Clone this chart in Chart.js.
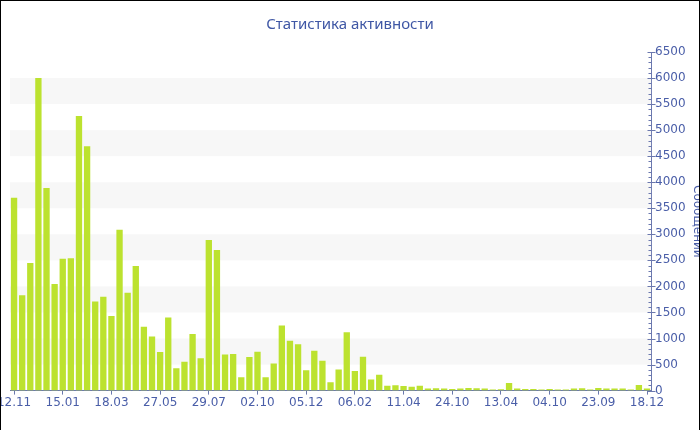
<!DOCTYPE html>
<html>
<head>
<meta charset="utf-8">
<script src="https://cdn.jsdelivr.net/npm/chart.js@4"></script>
<style>
  html, body { margin: 0; padding: 0; background: #fff; }
  #wrap { position: relative; width: 700px; height: 430px; overflow: hidden; background: #fff; }
  #myChart { position: absolute; left: 0; top: 0; }
  #frame { position: absolute; left: 0; top: 0; width: 698px; height: 430px;
           border-left: 1px solid #000; border-right: 1px solid #000; border-top: 1px solid #000;
           pointer-events: none; }
</style>
</head>
<body>
<div id="wrap">
  <canvas id="myChart" width="708" height="430"></canvas>
  <div id="frame"></div>
</div>
<script>
const chartTitle = 'Статистика активности';

// подписи оси X (каждая 6-я неделя)
const tickLabels = ['12.11', '15.01', '18.03', '27.05', '29.07', '02.10', '05.12',
                    '06.02', '11.04', '24.10', '13.04', '04.10', '23.09', '18.12'];
const labelStep = 6;

// количество сообщений
const messages = [
    3700, 1830, 2450, 6000, 3890, 2045, 2530, 2540, 5270, 4690,
    1710, 1800, 1430, 3090, 1880, 2390, 1225, 1040, 740, 1405,
    428, 556, 1086, 620, 2890, 2700, 695, 703, 255, 645,
    747, 255, 518, 1252, 958, 888, 390, 767, 575, 160,
    403, 1118, 377, 652, 214, 303, 92, 105, 86, 73,
    92, 40, 45, 38, 32, 38, 51, 45, 38, 19,
    25, 147, 38, 32, 32, 19, 32, 19, 19, 38,
    45, 19, 51, 38, 38, 38, 19, 109, 38
];

const categories = messages.map((v, i) => i % labelStep === 0 ? tickLabels[i / labelStep] : '');

const textColor = '#4a5ea8';
const axisColor = '#6b78ae';

// полосы фона, мелкие деления на оси Y и заголовок по центру окна
const decor = {
    id: 'decor',
    beforeDatasetsDraw(chart) {
        const { ctx, chartArea, scales: { y } } = chart;
        ctx.save();
        ctx.fillStyle = '#f7f7f7';
        for (let v = 500; v < 6500; v += 1000) {
            const top = y.getPixelForValue(v + 500);
            const bottom = y.getPixelForValue(v);
            ctx.fillRect(chartArea.left, top, chartArea.right - chartArea.left, bottom - top);
        }
        ctx.restore();
    },
    afterDraw(chart) {
        const { ctx, scales: { y } } = chart;
        const x0 = Math.round(y.left) + 0.5;
        ctx.save();
        ctx.strokeStyle = axisColor;
        ctx.lineWidth = 1;
        ctx.beginPath();
        for (let v = 0; v <= 6500; v += 100) {
            const py = Math.round(y.getPixelForValue(v)) + 0.5;
            if (v % 500 === 0) {
                ctx.moveTo(x0 - 4, py);
                ctx.lineTo(x0 + 4, py);
            } else {
                ctx.moveTo(x0 - 3, py);
                ctx.lineTo(x0, py);
            }
        }
        ctx.stroke();

        ctx.fillStyle = '#3f57a5';
        ctx.font = '15px "Noto Sans"';
        ctx.textAlign = 'center';
        ctx.textBaseline = 'middle';
        ctx.fillText(chartTitle, 350, 25);
        ctx.restore();
    }
};

const ctx = document.getElementById('myChart').getContext('2d');
const myChart = new Chart(ctx, {
    type: 'bar',
    data: {
        labels: categories,
        datasets: [{
            label: 'Сообщений',
            data: messages,
            backgroundColor: '#bce22f',
            borderWidth: 0,
            categoryPercentage: 1,
            barPercentage: 0.78
        }]
    },
    options: {
        responsive: false,
        animation: false,
        devicePixelRatio: 1,
        layout: { padding: { left: 10, right: 0, top: 52, bottom: 19 } },
        plugins: {
            legend: { display: false },
            tooltip: { enabled: false },
            title: { display: false }
        },
        scales: {
            x: {
                offset: true,
                afterFit(s) { s.paddingLeft = 0; s.paddingRight = 0; },
                border: { color: axisColor, width: 1 },
                grid: {
                    offset: false,
                    drawOnChartArea: false,
                    tickLength: 4,
                    tickColor: c => (c.index % labelStep === 0 ? axisColor : 'rgba(0,0,0,0)')
                },
                ticks: {
                    autoSkip: false,
                    maxRotation: 0,
                    padding: 1,
                    color: textColor,
                    font: { family: 'DejaVu Sans', size: 12 }
                }
            },
            y: {
                position: 'right',
                min: 0,
                max: 6500,
                border: { color: axisColor, width: 1 },
                grid: { display: false, drawTicks: false },
                ticks: {
                    stepSize: 500,
                    padding: 4,
                    color: textColor,
                    font: { family: 'DejaVu Sans', size: 12 },
                    callback: v => String(v)
                },
                title: {
                    display: true,
                    text: 'Сообщений',
                    color: textColor,
                    font: { family: 'DejaVu Sans', size: 12 },
                    padding: { top: 4, bottom: 0 }
                }
            }
        }
    },
    plugins: [decor]
});
</script>
</body>
</html>
